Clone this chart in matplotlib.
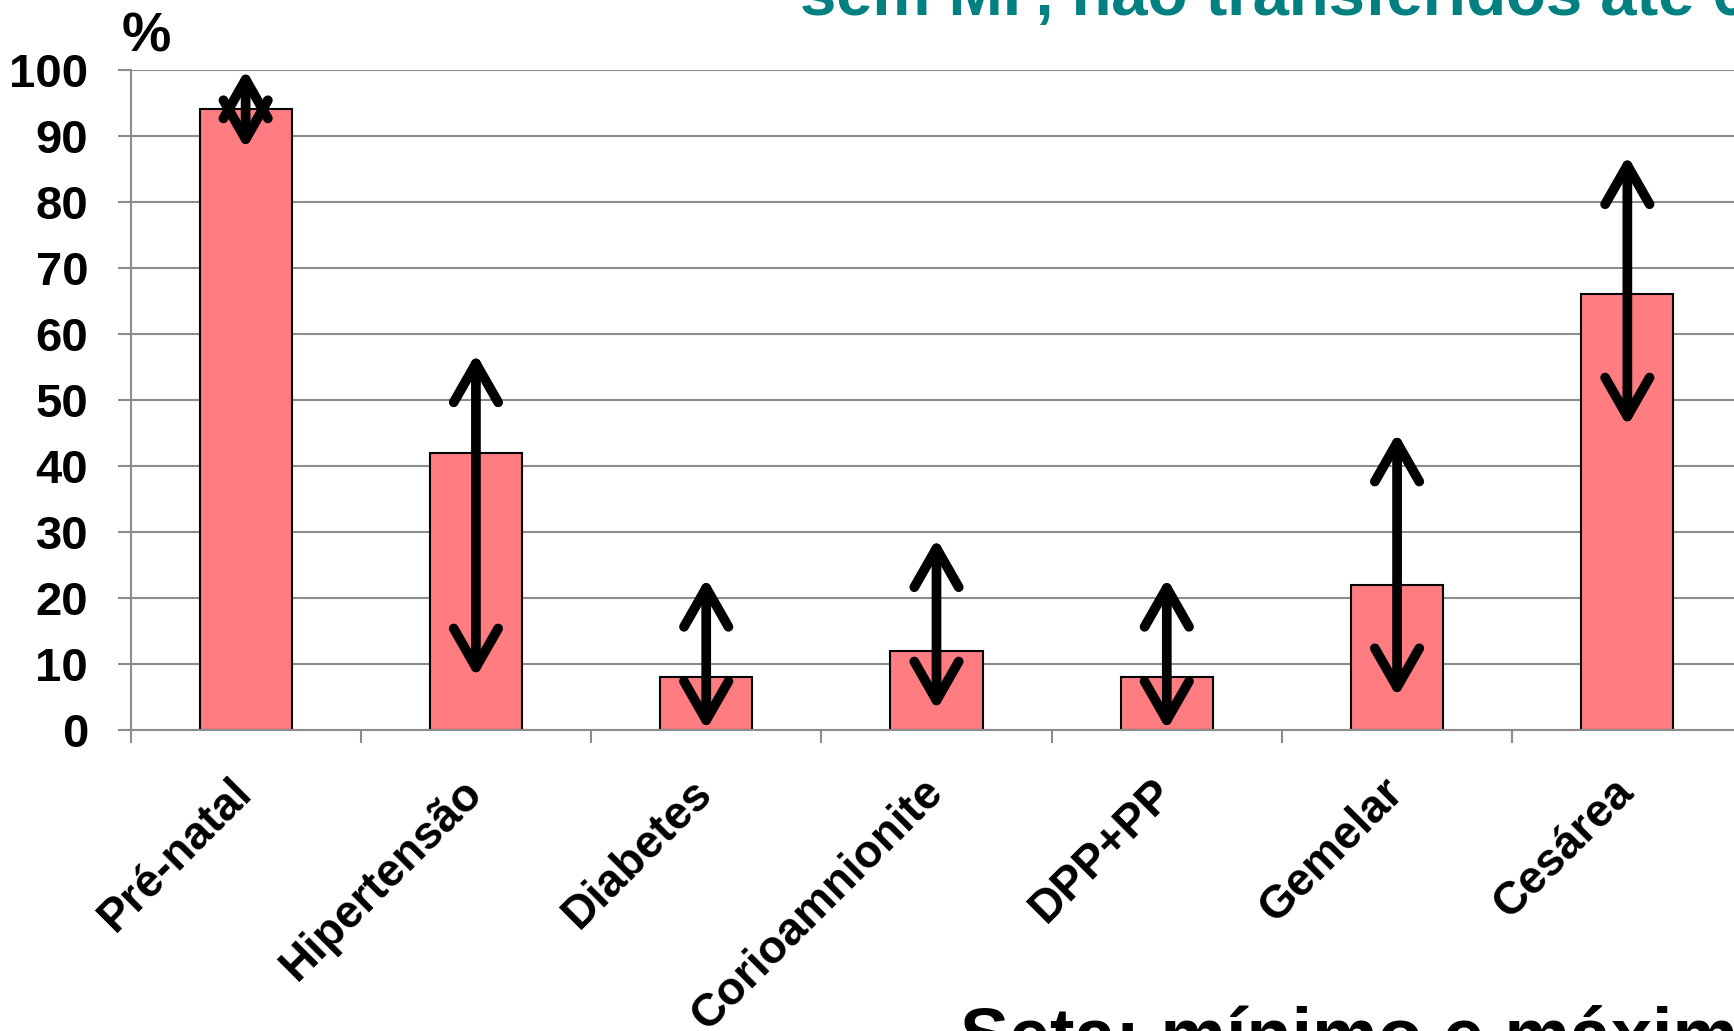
import matplotlib
matplotlib.use('Agg')
import numpy as np
import matplotlib.pyplot as plt
from matplotlib.patches import FancyArrowPatch
from matplotlib.transforms import ScaledTranslation

# data
categories = ['Pré-natal', 'Hipertensão', 'Diabetes', 'Corioamnionite',
              'DPP+PP', 'Gemelar', 'Cesárea']
values = [94, 42, 8, 12, 8, 22, 66]
lows = [88, 8, 0, 3, 0, 5, 46]     # arrow minimum
highs = [100, 57, 23, 29, 23, 45, 87]  # arrow maximum
yticks = [0, 10, 20, 30, 40, 50, 60, 70, 80, 90, 100]

plt.rcParams['font.family'] = ['Liberation Sans', 'DejaVu Sans']
plt.rcParams['font.weight'] = 'bold'

W, H = 1734, 1031
fig = plt.figure(figsize=(W / 100, H / 100), dpi=100)
ax = fig.add_axes([130.5 / W, 1 - 730 / H, 1612 / W, 660.3 / H])

x = np.arange(len(categories))
ax.bar(x, values, width=0.4, color='#FF7C80', edgecolor='black', linewidth=1.5, zorder=2)

# min-max arrows
for xi, lo, hi in zip(x, lows, highs):
    arr = FancyArrowPatch((xi, lo), (xi, hi), arrowstyle='<->,head_length=1.4,head_width=0.8',
                          mutation_scale=20, color='black', lw=7, shrinkA=0, shrinkB=0,
                          capstyle='round', joinstyle='round', zorder=3, clip_on=False)
    ax.add_patch(arr)

ax.set_xlim(-0.5, len(categories) - 0.5)
ax.set_ylim(0, 100)
ax.set_yticks(yticks)
ax.set_yticklabels([str(v) for v in yticks])
ax.yaxis.grid(True, color='#8c8c8c', linewidth=1.5, zorder=0)
ax.set_axisbelow(True)

ax.set_xticks(x)
ax.set_xticklabels(categories, rotation=45, ha='right', va='top')
ax.set_xticks(np.arange(len(categories)) - 0.5, minor=True)
ax.tick_params(axis='x', which='major', length=0, pad=29, labelsize=33)
ax.tick_params(axis='x', which='minor', length=9.5, width=1.5, color='#8c8c8c')
ax.tick_params(axis='y', length=9.5, width=1.5, color='#8c8c8c', pad=21, labelsize=34)
for lab in ax.get_xticklabels():
    lab.set_transform(lab.get_transform() + ScaledTranslation(15 / 100, 0, fig.dpi_scale_trans))

for s in ['top', 'right']:
    ax.spines[s].set_visible(False)
ax.spines['left'].set_color('#8c8c8c')
ax.spines['bottom'].set_color('#8c8c8c')
ax.spines['left'].set_linewidth(1.5)
ax.spines['bottom'].set_linewidth(1.5)

fig.text(122 / W, 1 - 52 / H, '%', fontsize=40, fontweight='bold', ha='left', va='baseline')
fig.text(800 / W, 1 - 15 / H, 'sem MF, não transferidos até 6', fontsize=47,
         fontweight='bold', color='#008080', ha='left', va='baseline')
fig.text(960 / W, 1 - 1059 / H, 'Seta: mínimo e máximo', fontsize=53,
         fontweight='bold', color='black', ha='left', va='baseline')

fig.savefig('out.png', dpi=100)
